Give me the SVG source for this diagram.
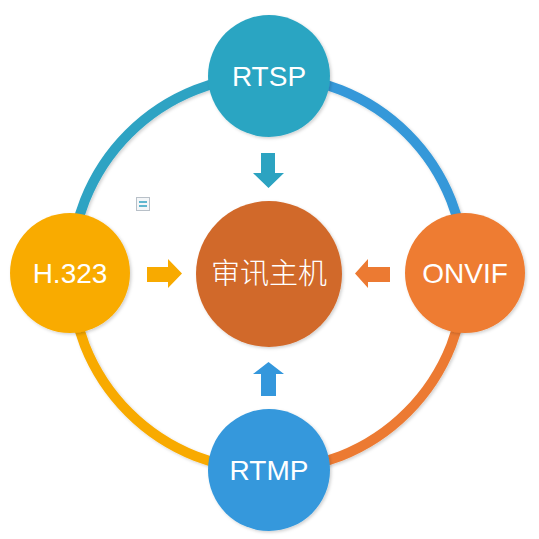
<svg xmlns="http://www.w3.org/2000/svg" width="539" height="539" viewBox="0 0 539 539">
  <defs>
    <filter id="sh" x="-20%" y="-20%" width="140%" height="140%">
      <feDropShadow dx="1.5" dy="1.5" stdDeviation="1.5" flood-color="#000" flood-opacity="0.18"/>
    </filter>
  </defs>
  <style>
    .ring { fill: none; stroke-width: 10; }
    .lbl { font-family: "Liberation Sans", Arial, sans-serif; font-size: 28px; fill: #ffffff; text-anchor: middle; }
    .cjk { font-family: "Noto Sans CJK SC", "Liberation Sans", sans-serif; font-size: 29px; fill: #ffffff; text-anchor: middle; font-weight: 300; }
  </style>
  <rect width="539" height="539" fill="#ffffff"/>
  <g id="connectors">
    <path class="ring" stroke="#2ea3c3" d="M71,273 A197,197 0 0 1 268,76" filter="url(#sh)"/>
    <path class="ring" stroke="#3598d9" d="M268,76 A197,197 0 0 1 465,273" filter="url(#sh)"/>
    <path class="ring" stroke="#ec7a32" d="M465,273 A197,197 0 0 1 268,470" filter="url(#sh)"/>
    <path class="ring" stroke="#f8aa00" d="M268,470 A197,197 0 0 1 71,273" filter="url(#sh)"/>
    <polygon fill="#2ca3c1" points="261,153 275,153 275,173 284,173 268.5,188 253,173 261,173"/>
    <polygon fill="#3497dc" points="261,396 276,396 276,374 284,374 268.5,362 253,374 261,374"/>
    <polygon fill="#f8aa00" points="147,267 168,267 168,259 182,273.5 168,288 168,282 147,282"/>
    <polygon fill="#ec7a32" points="390,267 368,267 368,259 355,273.5 368,288 368,282 390,282"/>
  </g>
  <g id="icon">
    <rect x="136.5" y="197.5" width="13" height="13" fill="#f4f6f8" stroke="#b8c0c8" stroke-width="1"/>
    <rect x="139" y="201" width="8" height="2" fill="#5fb6cf"/>
    <rect x="139" y="205" width="8" height="2" fill="#5fb6cf"/>
  </g>
  <g id="node-rtsp">
    <circle cx="269" cy="76" r="61" fill="#2ca5c2" filter="url(#sh)"/>
    <text class="lbl" x="269" y="86">RTSP</text>
  </g>
  <g id="node-h323">
    <circle cx="70" cy="273" r="60" fill="#f9ab00" filter="url(#sh)"/>
    <text class="lbl" x="70" y="283">H.323</text>
  </g>
  <g id="node-onvif">
    <circle cx="465" cy="273" r="60" fill="#ee7c31" filter="url(#sh)"/>
    <text class="lbl" x="465" y="283">ONVIF</text>
  </g>
  <g id="node-rtmp">
    <circle cx="269" cy="470" r="61" fill="#3498dc" filter="url(#sh)"/>
    <text class="lbl" x="269" y="480">RTMP</text>
  </g>
  <g id="node-host">
    <circle cx="269" cy="274" r="73" fill="#d1692a" filter="url(#sh)"/>
    <text class="cjk" x="269" y="284">审讯主机</text>
  </g>
</svg>
